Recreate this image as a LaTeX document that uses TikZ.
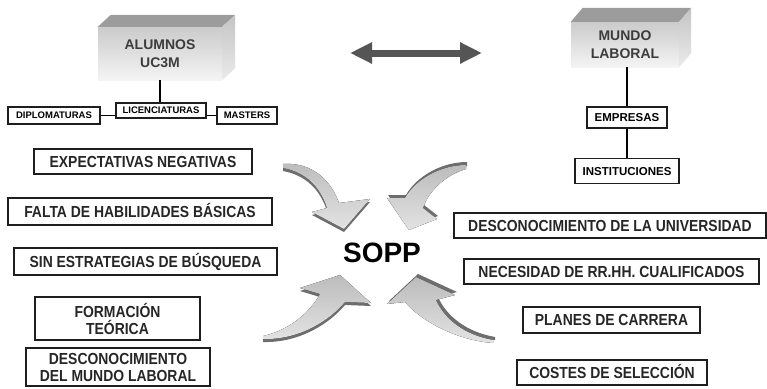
\documentclass[tikz,border=0pt]{standalone}
\usepackage{fontspec}
\setmainfont{Liberation Sans}
\newfontfamily\issuefont[FakeStretch=0.87]{Liberation Sans}
\usepackage{tikz}
\usetikzlibrary{arrows.meta,positioning,calc}
\definecolor{boxline}{HTML}{1E1E1E}
\definecolor{boxtext}{HTML}{262626}
\definecolor{cubetext}{HTML}{3C3C3C}
\definecolor{cubehi}{HTML}{F4F4F4}
\definecolor{cubelo}{HTML}{CBCBCB}
\definecolor{cubetopc}{HTML}{9C9C9C}
\definecolor{cubesidec}{HTML}{C4C4C4}
\definecolor{arrowgray}{HTML}{555555}
\definecolor{bendfill}{HTML}{CCCCCC}
\definecolor{bendshade}{HTML}{6E6E6E}
\tikzset{
  cube/.style={shade, top color=cubelo, bottom color=cubehi, align=center,
    inner sep=0pt, text=cubetext, font=\bfseries\fontsize{14}{18}\selectfont},
  cubetop/.style={fill=cubetopc},
  cubeside/.style={top color=cubesidec, bottom color=cubehi!80!cubesidec},
  issuebase/.style={draw=boxline, line width=1.8pt, fill=white, align=center,
    inner sep=0pt, text=boxtext, font=\issuefont\bfseries\fontsize{16}{17}\selectfont},
  issue/.style={issuebase, text height=11.5pt, text depth=0pt},
  tag/.style={draw=boxline, line width=1.4pt, fill=white, inner sep=0pt,
    text=black, text height=6.8pt, text depth=0pt, font=\bfseries\fontsize{9.5}{10}\selectfont},
  org/.style={draw=boxline, line width=1.6pt, fill=white, inner sep=0pt,
    text=black, text height=8.3pt, text depth=0pt, font=\bfseries\fontsize{11.5}{13}\selectfont},
  link/.style={draw=black, line width=1.8pt},
  thicklink/.style={draw=black, line width=2.8pt},
  dblarrow/.style={{Triangle[length=22pt,width=20pt]}-{Triangle[length=22pt,width=20pt]},
    line width=7pt, draw=arrowgray},
  bendbody/.style={top color=bendfill!92!black, bottom color=bendfill!55!white},
  bendedge/.style={fill=bendshade}
}
\newcommand\bentarrow[2]{%
  \fill[bendedge, shift={#1}] #2;
  \fill[bendbody] #2;}

\begin{document}
\begin{tikzpicture}[x=1pt,y=-1pt]
    \useasboundingbox (0,0) rectangle (767,388);

    \node[cube, minimum width=124pt, minimum height=53pt] (alum) at (160,53.5) {ALUMNOS\\UC3M};
    \node[cube, minimum width=108pt, minimum height=45pt] (mundo) at (625,44.5) {MUNDO\\LABORAL};
    \foreach \c/\dx/\dy in {alum/13/12,mundo/12/14} {
        \fill[cubetop] (\c.north west) -- ++(\dx,-\dy) -- ($(\c.north east)+(\dx,-\dy)$) -- (\c.north east) -- cycle;
        \shade[cubeside] (\c.north east) -- ++(\dx,-\dy) -- ($(\c.south east)+(\dx,-\dy)$) -- (\c.south east) -- cycle;
    }

    \node[tag, minimum width=90pt, minimum height=15pt] (lic) at (161,110.5) {LICENCIATURAS};
    \node[tag, minimum width=92pt, minimum height=17pt] (dip) at (54,115.5) {DIPLOMATURAS};
    \node[tag, minimum width=60pt, minimum height=17pt] (mas) at (247,115.5) {MASTERS};

    \node[org, minimum width=80pt, minimum height=21pt] (emp) at (627,117.5) {EMPRESAS};
    \node[org, below=29pt of emp, minimum width=104pt, minimum height=25pt] (inst) {INSTITUCIONES};

    \draw[link] (alum.south) -- (alum.south |- lic.north);
    \draw[link] (dip.east) -- (dip.east -| lic.west);
    \draw[link] (mas.west) -- (mas.west -| lic.east);
    \draw[thicklink] (emp.north) -- (emp.north |- mundo.south);
    \draw[thicklink] (emp.south) -- (inst.north);

    \coordinate (dl) at (350,53);
    \coordinate (dr) at (482,53);
    \draw[dblarrow] (dl) -- (dr);

    \node[issue, minimum width=218pt, minimum height=25pt] (expect) at (143,161.5) {EXPECTATIVAS NEGATIVAS};
    \node[issue, minimum width=264pt, minimum height=27pt] (falta) at (140,211.5) {FALTA DE HABILIDADES BÁSICAS};
    \node[issue, minimum width=263pt, minimum height=27pt] (sinest) at (145.5,261.5) {SIN ESTRATEGIAS DE BÚSQUEDA};
    \node[issuebase, minimum width=165pt, minimum height=43pt] (form) at (117.5,318.5) {FORMACIÓN\\TEÓRICA};
    \node[issuebase, minimum width=184pt, minimum height=38pt] (descmun) at (118,367) {DESCONOCIMIENTO\\DEL MUNDO LABORAL};

    \node[issue, minimum width=312pt, minimum height=25pt] (descuni) at (610,225.5) {DESCONOCIMIENTO DE LA UNIVERSIDAD};
    \node[issue, minimum width=295pt, minimum height=25pt] (neces) at (611.5,271.5) {NECESIDAD DE RR.HH. CUALIFICADOS};
    \node[issue, minimum width=177pt, minimum height=26pt] (planes) at (611.5,320) {PLANES DE CARRERA};
    \node[issue, minimum width=190pt, minimum height=25pt] (costes) at (612,372.5) {COSTES DE SELECCIÓN};

    \node[font=\bfseries\fontsize{28}{30}\selectfont] (sopp) at (382,253) {SOPP};

    \bentarrow{(0,3)}{(283,164) .. controls (310,162) and (330,178) .. (339,203) -- (370,199) -- (344,229) -- (312,212) -- (327,208) .. controls (320,186) and (305,172) .. (283,168) -- cycle}
    \bentarrow{(1,-3)}{(466,165) .. controls (440,165) and (415,180) .. (405,198) -- (387,198) -- (409,230) -- (437,219) -- (423,208) .. controls (428,192) and (445,175) .. (466,169) -- cycle}
    \bentarrow{(0,3)}{(263,339) .. controls (300,340) and (330,320) .. (345,302) -- (371,303) -- (340,275) -- (300,288) -- (320,294) .. controls (310,312) and (290,330) .. (263,336) -- cycle}
    \bentarrow{(2,-3)}{(493,343) .. controls (455,340) and (420,320) .. (405,302) -- (387,304) -- (416,277) -- (455,295) -- (436,300) .. controls (445,320) and (465,335) .. (493,340) -- cycle}
\end{tikzpicture}
\end{document}
